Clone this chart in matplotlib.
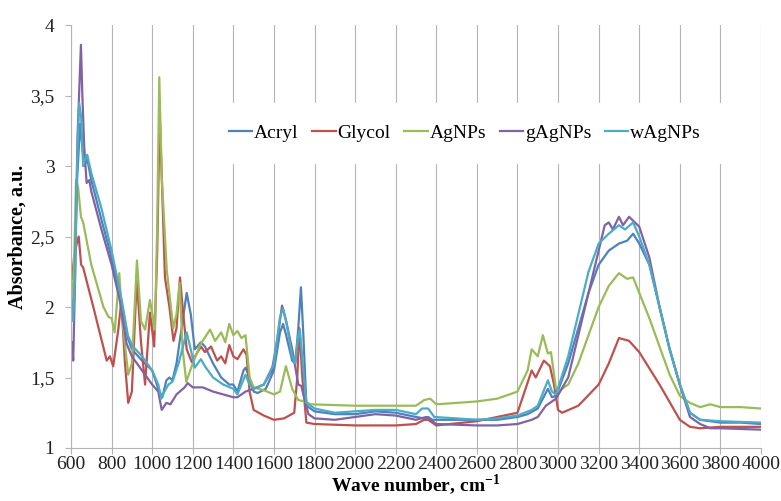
import numpy as np
import matplotlib
matplotlib.use("Agg")
import matplotlib.pyplot as plt
from matplotlib.ticker import FuncFormatter, MultipleLocator

# FTIR spectra
acryl_x = [605, 612, 620, 630, 645, 655, 665, 680, 700, 750, 800, 850, 880, 900, 950, 1000, 1030, 1050,
           1070, 1085, 1100, 1120, 1150, 1170, 1190, 1210, 1240, 1260, 1300, 1340, 1380, 1400, 1420, 1450,
           1460, 1480, 1500, 1520, 1560, 1600, 1630, 1645, 1660, 1690, 1705, 1720, 1733, 1745, 1760, 1800,
           1900, 2000, 2100, 2200, 2300, 2340, 2360, 2380, 2500, 2600, 2700, 2800, 2850, 2900, 2950, 2970,
           2990, 3050, 3100, 3150, 3200, 3250, 3300, 3340, 3370, 3400, 3450, 3500, 3550, 3600, 3650, 3700,
           3800, 3900, 4000]
acryl_y = [1.95, 2.0, 2.4, 2.9, 3.3, 3.15, 3.0, 3.05, 2.9, 2.62, 2.35, 2.02, 1.78, 1.7, 1.62, 1.55, 1.42, 1.36,
           1.48, 1.5, 1.48, 1.6, 1.9, 2.1, 1.95, 1.7, 1.75, 1.72, 1.6, 1.5, 1.45, 1.45, 1.4, 1.55,
           1.57, 1.5, 1.4, 1.39, 1.42, 1.55, 1.82, 1.88, 1.8, 1.62, 1.6, 1.85, 2.14, 1.8, 1.3, 1.26,
           1.24, 1.24, 1.26, 1.25, 1.22, 1.21, 1.22, 1.2, 1.2, 1.2, 1.2, 1.22, 1.24, 1.28, 1.42, 1.36,
           1.37, 1.6, 1.85, 2.1, 2.3, 2.4, 2.45, 2.47, 2.52, 2.45, 2.3, 2.0, 1.7, 1.45, 1.25, 1.2,
           1.18, 1.18, 1.17]

glycol_x = [605, 615, 628, 638, 650, 660, 710, 776, 792, 808, 833, 848, 866, 882, 900, 924, 945, 965,
            989, 1010, 1025, 1037, 1050, 1063, 1085, 1105, 1120, 1137, 1150, 1170, 1195, 1240, 1260, 1290,
            1320, 1340, 1360, 1380, 1400, 1420, 1450, 1465, 1480, 1500, 1550, 1600, 1650, 1700, 1715, 1725,
            1740, 1760, 1800, 2000, 2200, 2300, 2340, 2360, 2400, 2600, 2800, 2870, 2890, 2930, 2960, 2980,
            3000, 3020, 3100, 3200, 3250, 3300, 3350, 3400, 3500, 3600, 3650, 3700, 3800, 4000]
glycol_y = [2.2, 2.35, 2.45, 2.5, 2.3, 2.28, 2.0, 1.62, 1.65, 1.58, 1.84, 2.04, 1.6, 1.32, 1.4, 2.2, 1.75, 1.45,
            1.96, 1.72, 2.4, 3.37, 2.8, 2.21, 2.0, 1.76, 1.85, 2.21, 2.0, 1.7, 1.61, 1.72, 1.68, 1.72,
            1.62, 1.65, 1.6, 1.73, 1.65, 1.63, 1.7, 1.66, 1.4, 1.27, 1.23, 1.2, 1.21, 1.25, 1.5, 1.85,
            1.5, 1.18, 1.17, 1.16, 1.16, 1.17, 1.2, 1.2, 1.16, 1.19, 1.25, 1.55, 1.5, 1.62, 1.58, 1.45,
            1.27, 1.25, 1.3, 1.45, 1.6, 1.78, 1.76, 1.68, 1.45, 1.2, 1.15, 1.14, 1.15, 1.15]

agnps_x = [605, 615, 625, 635, 649, 660, 700, 760, 785, 800, 815, 838, 850, 882, 900, 925, 945, 965,
           989, 1014, 1025, 1035, 1048, 1072, 1104, 1120, 1135, 1150, 1168, 1200, 1236, 1285, 1310, 1340,
           1360, 1380, 1400, 1420, 1440, 1460, 1480, 1500, 1550, 1600, 1630, 1659, 1690, 1720, 1750, 1780,
           2000, 2200, 2300, 2340, 2370, 2400, 2500, 2600, 2700, 2800, 2850, 2870, 2900, 2925, 2950, 2965,
           2990, 3000, 3050, 3100, 3150, 3200, 3250, 3300, 3340, 3370, 3400, 3450, 3500, 3550, 3600, 3650,
           3700, 3750, 3800, 3900, 4000]
agnps_y = [2.0, 2.3, 2.9, 2.85, 2.64, 2.6, 2.3, 2.0, 1.93, 1.92, 1.82, 2.24, 1.95, 1.52, 1.6, 2.33, 1.9, 1.84,
           2.05, 1.84, 2.6, 3.63, 2.9, 2.26, 1.85, 1.95, 2.17, 1.7, 1.47, 1.6, 1.73, 1.84, 1.76, 1.82,
           1.75, 1.88, 1.8, 1.83, 1.78, 1.8, 1.5, 1.43, 1.41, 1.38, 1.4, 1.58, 1.42, 1.34, 1.33, 1.31,
           1.3, 1.3, 1.3, 1.34, 1.35, 1.31, 1.32, 1.33, 1.35, 1.4, 1.55, 1.7, 1.65, 1.8, 1.67, 1.68,
           1.42, 1.4, 1.45, 1.6, 1.8, 2.0, 2.15, 2.24, 2.2, 2.21, 2.1, 1.92, 1.72, 1.52, 1.37, 1.32,
           1.29, 1.31, 1.29, 1.29, 1.28]

gagnps_x = [605, 611, 620, 632, 649, 656, 665, 677, 690, 700, 750, 800, 840, 874, 900, 950, 1000, 1030,
            1047, 1070, 1090, 1120, 1160, 1175, 1200, 1250, 1300, 1350, 1400, 1420, 1460, 1500, 1550, 1590,
            1620, 1640, 1660, 1690, 1720, 1735, 1750, 1770, 1800, 1900, 2000, 2100, 2200, 2300, 2350, 2400,
            2600, 2700, 2800, 2870, 2900, 2940, 2960, 2990, 3050, 3100, 3150, 3200, 3230, 3250, 3270, 3300,
            3320, 3350, 3400, 3450, 3500, 3550, 3600, 3650, 3700, 3750, 3800, 4000]
gagnps_y = [1.75, 1.62, 2.2, 3.2, 3.86, 3.5, 3.14, 2.88, 2.9, 2.82, 2.55, 2.3, 2.05, 1.74, 1.65, 1.55, 1.45, 1.4,
            1.27, 1.32, 1.31, 1.38, 1.43, 1.46, 1.43, 1.43, 1.4, 1.38, 1.36, 1.36, 1.4, 1.42, 1.45, 1.55,
            1.8, 2.01, 1.9, 1.7, 1.45, 1.44, 1.35, 1.24, 1.21, 1.2, 1.22, 1.24, 1.23, 1.2, 1.22, 1.17,
            1.16, 1.16, 1.17, 1.2, 1.22, 1.3, 1.32, 1.35, 1.5, 1.8, 2.1, 2.4, 2.58, 2.6, 2.55, 2.64,
            2.58, 2.64, 2.57, 2.35, 2.0, 1.7, 1.45, 1.22, 1.17, 1.14, 1.14, 1.13]

wagnps_x = [605, 610, 620, 630, 640, 650, 660, 670, 680, 700, 750, 800, 850, 880, 900, 950, 1000, 1030,
            1045, 1060, 1080, 1100, 1130, 1170, 1190, 1210, 1240, 1260, 1300, 1350, 1400, 1420, 1460, 1480,
            1500, 1550, 1600, 1630, 1645, 1660, 1690, 1705, 1720, 1728, 1745, 1760, 1800, 1900, 2000, 2100,
            2200, 2300, 2330, 2360, 2390, 2500, 2600, 2700, 2800, 2870, 2900, 2950, 2970, 2990, 3050, 3100,
            3150, 3200, 3250, 3300, 3330, 3370, 3400, 3450, 3500, 3550, 3600, 3650, 3700, 3800, 4000]
wagnps_y = [2.05, 1.9, 2.2, 3.0, 3.45, 3.35, 3.0, 3.05, 3.08, 2.95, 2.7, 2.4, 2.05, 1.8, 1.73, 1.65, 1.55, 1.45,
            1.35, 1.4, 1.45, 1.47, 1.6, 1.82, 1.7, 1.57, 1.63, 1.58, 1.5, 1.45, 1.42, 1.38, 1.52, 1.45,
            1.42, 1.45, 1.6, 1.93, 1.99, 1.9, 1.65, 1.6, 1.8, 1.84, 1.55, 1.32, 1.28, 1.25, 1.26, 1.27,
            1.27, 1.24, 1.28, 1.28, 1.22, 1.21, 1.2, 1.21, 1.23, 1.27, 1.3, 1.48, 1.4, 1.38, 1.65, 1.95,
            2.25, 2.45, 2.52, 2.58, 2.55, 2.6, 2.5, 2.3, 2.0, 1.7, 1.45, 1.25, 1.2, 1.19, 1.18]

names = ["Acryl", "Glycol", "AgNPs", "gAgNPs", "wAgNPs"]
colors = ["#4F81BD", "#C0504D", "#9BBB59", "#8064A2", "#4BACC6"]
series = [(acryl_x, acryl_y), (glycol_x, glycol_y), (agnps_x, agnps_y),
          (gagnps_x, gagnps_y), (wagnps_x, wagnps_y)]

plt.rcParams['font.family'] = ['Liberation Serif', 'DejaVu Serif']
plt.rcParams['mathtext.fontset'] = 'custom'
plt.rcParams['mathtext.bf'] = 'Liberation Serif:bold'
plt.rcParams['mathtext.rm'] = 'Liberation Serif'

fig = plt.figure(figsize=(7.81, 5.01), dpi=100)
ax = fig.add_axes([0.0909, 0.1058, 0.8835, 0.8442])

for (x, y), name, c in zip(series, names, colors):
    ax.plot(x, y, color=c, lw=1.6, label=name)

ax.set_xlim(600, 4000)
ax.set_ylim(1, 4)
ax.xaxis.set_major_locator(MultipleLocator(200))
ax.yaxis.set_major_locator(MultipleLocator(0.5))
ax.yaxis.set_major_formatter(FuncFormatter(lambda v, p: ('%g' % v).replace('.', ',')))
ax.grid(axis='x', color='#b4b4b4', lw=0.8)
ax.set_axisbelow(True)
for s in ['top', 'right']:
    ax.spines[s].set_visible(False)
for s in ['left', 'bottom']:
    ax.spines[s].set_color('#b4b4b4')
ax.tick_params(axis='both', colors='#b4b4b4', labelcolor='#222222', labelsize=14, length=4)
ax.tick_params(axis='y', pad=8)
ax.tick_params(axis='x', pad=2)

ax.set_xlabel('Wave number, cm$^{\\mathbf{-1}}$', fontsize=14, fontweight='bold', labelpad=0)
ax.set_ylabel('Absorbance, a.u.', fontsize=14.5, fontweight='bold', labelpad=2)

leg = ax.legend(loc='center', bbox_to_anchor=(0.571, 0.745), ncol=5, frameon=True,
                fontsize=14, handlelength=1.2, handletextpad=0.1, columnspacing=0.7,
                borderpad=1.1)
leg.get_frame().set_edgecolor('white')
leg.get_frame().set_facecolor('white')
leg.get_frame().set_alpha(1)

fig.savefig('out.png', dpi=100)
